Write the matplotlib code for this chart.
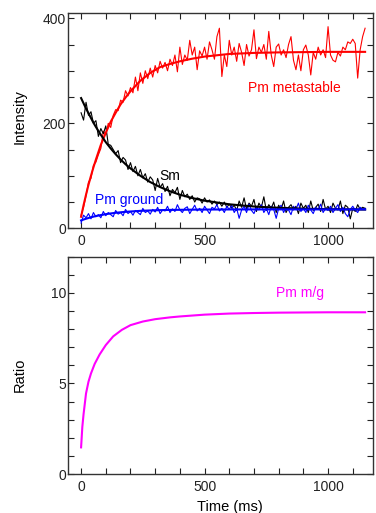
import numpy as np
import matplotlib
matplotlib.use("Agg")
import matplotlib.pyplot as plt
from matplotlib.ticker import MultipleLocator

plt.rcParams['font.family'] = ['Liberation Sans', 'DejaVu Sans']

# ---- data ----
t_data = list(range(0, 1151, 10))

pm_meta_data = [25, 40, 62, 88, 95, 120, 126, 140, 152, 185,
                178, 200, 192, 215, 226, 224, 244, 240, 262, 252,
                268, 258, 288, 262, 296, 276, 300, 285, 305, 288,
                310, 296, 318, 305, 316, 300, 322, 310, 330, 298,
                345, 312, 330, 320, 358, 330, 345, 302, 338, 328,
                345, 322, 355, 340, 322, 365, 381, 289, 330, 308,
                358, 330, 345, 318, 352, 335, 310, 350, 328, 340,
                378, 323, 345, 335, 350, 322, 375, 330, 308, 345,
                351, 330, 340, 325, 350, 365, 320, 302, 330, 300,
                340, 349, 330, 292, 335, 322, 345, 330, 340, 325,
                384, 330, 320, 317, 335, 328, 345, 340, 355, 352,
                360, 352, 286, 340, 365, 381]

sm_data = [220, 206, 240, 215, 222, 200, 205, 175, 190, 180,
           195, 160, 158, 150, 142, 148, 125, 135, 130, 112,
           125, 108, 118, 100, 112, 96, 104, 88, 98, 92,
           72, 95, 78, 85, 70, 80, 62, 74, 68, 78,
           55, 72, 60, 65, 55, 62, 50, 58, 56, 48,
           58, 50, 54, 46, 52, 45, 50, 42, 50, 40,
           46, 38, 44, 34, 52, 40, 58, 36, 48, 42,
           55, 32, 48, 40, 60, 34, 45, 38, 50, 30,
           44, 36, 52, 30, 40, 45, 35, 42, 28, 48,
           38, 44, 30, 52, 34, 40, 46, 32, 55, 36,
           42, 30, 48, 38, 35, 52, 28, 44, 40, 18,
           38, 32, 45, 36, 40, 38]

pm_ground_data = [10, 25, 20, 28, 18, 30, 22, 26, 20, 32,
                  24, 30, 26, 22, 34, 27, 30, 24, 36, 28,
                  32, 25, 34, 30, 26, 38, 30, 33, 27, 36,
                  31, 40, 28, 35, 33, 42, 30, 37, 32, 45,
                  35, 30, 38, 41, 28, 36, 44, 33, 38, 30,
                  42, 35, 28, 40, 37, 45, 33, 38, 30, 42,
                  36, 44, 30, 38, 19, 35, 42, 30, 46, 34,
                  28, 40, 35, 45, 30, 38, 26, 42, 36, 19,
                  38, 44, 30, 40, 35, 26, 42, 36, 48, 32,
                  38, 30, 44, 35, 28, 40, 36, 46, 30, 38,
                  34, 42, 30, 38, 45, 32, 40, 28, 22, 36,
                  42, 35, 30, 40, 36, 38]

t_fit = [0, 10, 20, 30, 40, 50, 60, 80, 100, 120, 140, 160, 180, 200,
         240, 280, 320, 360, 400, 450, 500, 600, 700, 800, 900, 1000, 1150]
pm_meta_fit = [22, 44, 64, 83, 100, 116, 131, 159, 182, 203, 220, 236, 249, 261,
               281, 296, 307, 313, 318, 323, 327, 332, 334, 335, 335.5, 336, 336]
sm_fit = [248, 238, 228, 219, 210, 201, 193, 178, 164, 152, 141, 131, 122, 114,
          100, 88, 78.5, 70.5, 64, 57.6, 52.6, 45.7, 41.5, 39, 37.4, 36.4, 35.7]
pm_ground_fit = [15, 16.7, 18.2, 19.6, 21, 22.2, 23.3, 25.2, 26.9, 28.3, 29.5, 30.5,
                 31.3, 32, 33.2, 34, 34.6, 35, 35.2, 35.5, 35.7, 35.9, 36, 36, 36, 36, 36]

t_ratio = [0, 5, 10, 20, 30, 40, 55, 75, 100, 130, 165, 200, 250, 300, 360,
           400, 500, 600, 700, 800, 1000, 1150]
ratio = [1.47, 2.6, 3.3, 4.45, 5.1, 5.55, 6.08, 6.6, 7.12, 7.6, 7.96, 8.22, 8.42,
         8.55, 8.65, 8.7, 8.8, 8.86, 8.89, 8.91, 8.93, 8.93]

x_ticks = [0, 500, 1000]

# ---- figure ----
fig = plt.figure(figsize=(3.76, 5.13), dpi=100)
W, H = 376, 513
def rect(l, t, r, b):
    return [l / W, 1 - b / H, (r - l) / W, (b - t) / H]

ax1 = fig.add_axes(rect(68, 13, 373, 228.3))
ax2 = fig.add_axes(rect(68, 256.7, 373, 474))

ax1.plot(t_data, pm_meta_data, color='#ff0000', lw=0.8)
ax1.plot(t_data, sm_data, color='black', lw=0.8)
ax1.plot(t_data, pm_ground_data, color='#0000ff', lw=0.8)
ax1.plot(t_fit, pm_meta_fit, color='#ff0000', lw=1.5)
ax1.plot(t_fit, sm_fit, color='black', lw=1.5)
ax1.plot(t_fit, pm_ground_fit, color='#0000ff', lw=1.5)

ax1.text(676, 267, 'Pm metastable', color='#ff0000', fontsize=10, va='center', ha='left')
ax1.text(316, 100, 'Sm', color='black', fontsize=10, va='center', ha='left')
ax1.text(57, 54, 'Pm ground', color='#0000ff', fontsize=10, va='center', ha='left')

ax2.plot(t_ratio, ratio, color='#ff00ff', lw=1.5)
ax2.text(789, 10.0, 'Pm m/g', color='#ff00ff', fontsize=10, va='center', ha='left')

ax1.set_xlim(-53, 1182)
ax1.set_ylim(0, 410)
ax2.set_xlim(-53, 1182)
ax2.set_ylim(0, 12)

for ax in (ax1, ax2):
    ax.set_xticks(x_ticks)
    ax.xaxis.set_minor_locator(MultipleLocator(100))
    for s in ax.spines.values():
        s.set_linewidth(1.0)
        s.set_color('#333333')
    ax.tick_params(which='both', direction='in', top=True, right=True,
                   length=4, width=0.8, labelsize=10, colors='#222222')
    ax.tick_params(axis='x', pad=4)
    ax.tick_params(axis='y', pad=1.5)

ax1.set_yticks([0, 200, 400])
ax1.yaxis.set_minor_locator(MultipleLocator(50))
ax2.set_yticks([0, 5, 10])
ax2.yaxis.set_minor_locator(MultipleLocator(1))

ax1.set_ylabel('Intensity', fontsize=10.5)
ax1.yaxis.set_label_coords(-0.135, 0.518)
ax2.set_ylabel('Ratio', fontsize=10.5)
ax2.yaxis.set_label_coords(-0.135, 0.458)
ax2.set_xlabel('Time (ms)', fontsize=10.5, va='top')
ax2.xaxis.set_label_coords(0.53, -0.12)

fig.savefig('out.png', dpi=100)
